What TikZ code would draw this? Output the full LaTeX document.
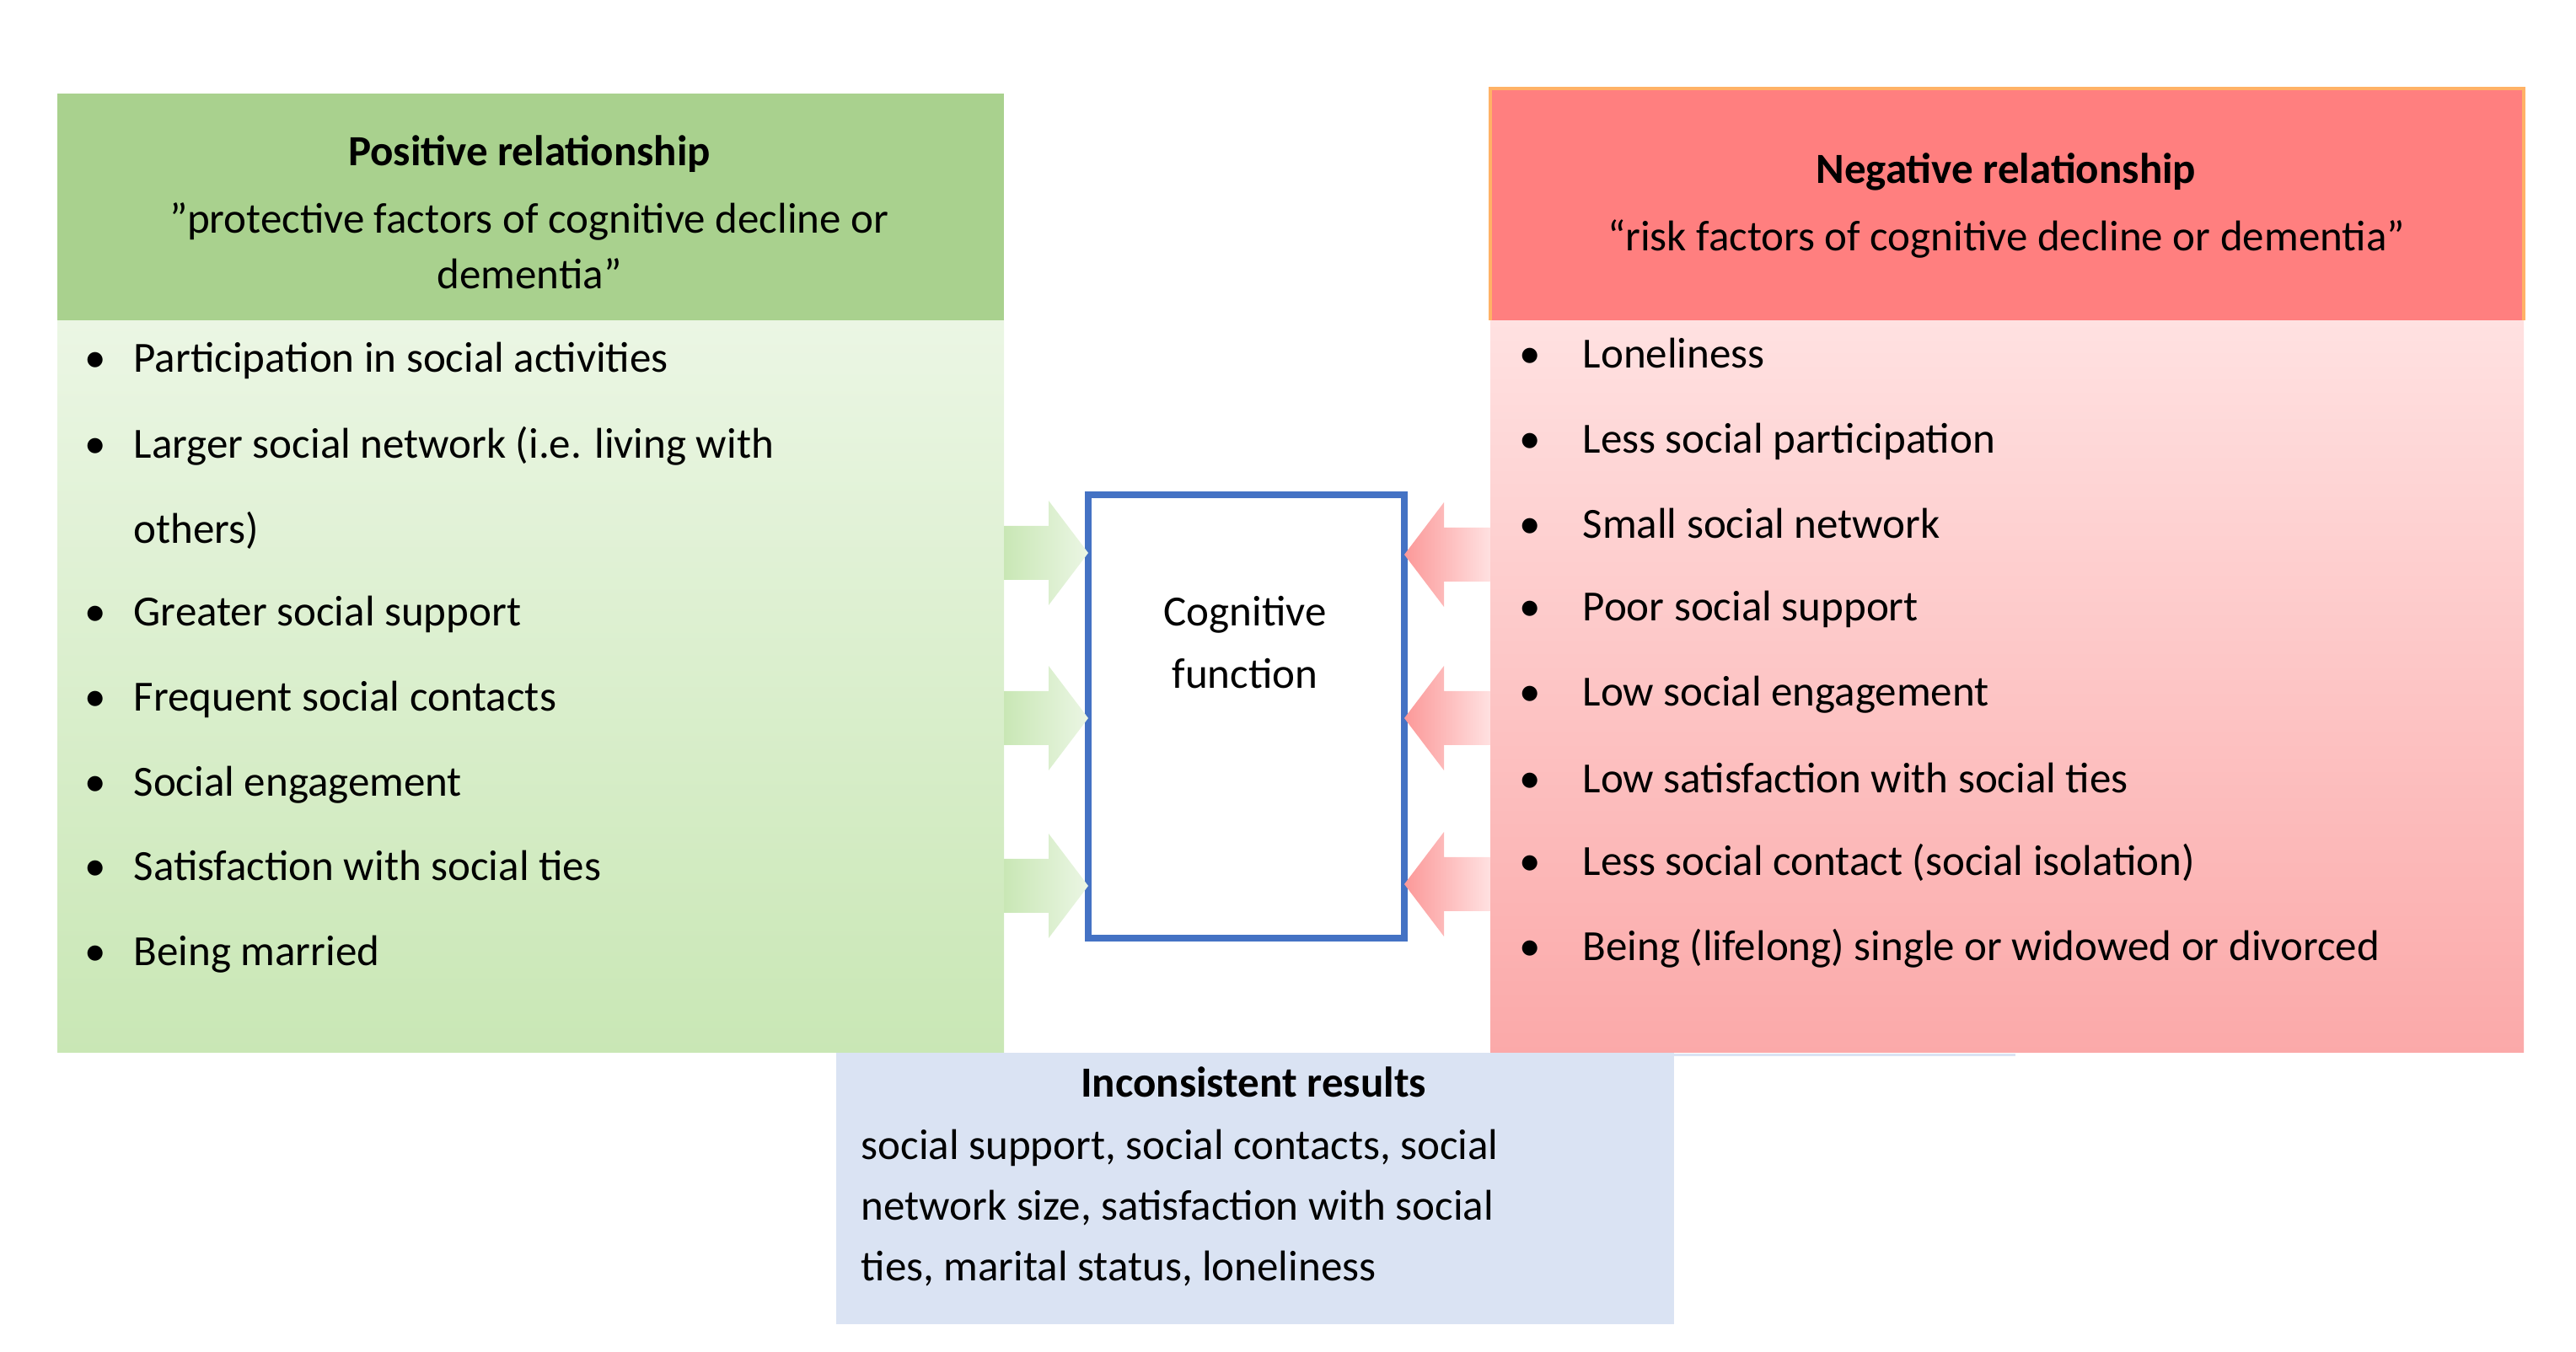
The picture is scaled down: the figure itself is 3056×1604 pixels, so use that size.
\documentclass[tikz,border=0pt]{standalone}
\usepackage{fontspec}
\setmainfont{Carlito}
\begin{document}
\begin{tikzpicture}[x=0.01cm,y=-0.01cm,
  txt/.style={font=\fontsize{14.5pt}{17pt}\selectfont,inner sep=0pt},
  bl/.style={txt,anchor=base west},
  hd/.style={txt,anchor=base,font=\fontsize{14.5pt}{17pt}\selectfont\bfseries}]
\definecolor{ghead}{HTML}{A9D18E}
\definecolor{gtop}{HTML}{EBF6E4}
\definecolor{gbot}{HTML}{C9E7B5}
\definecolor{rhead}{HTML}{FF7F7F}
\definecolor{rtop}{HTML}{FFE1E1}
\definecolor{rbot}{HTML}{FBA9A9}
\definecolor{bbox}{HTML}{DAE3F3}
\definecolor{cblue}{HTML}{4472C4}
\useasboundingbox (0,0) rectangle (3056,1604);
% green panel
\shade[top color=gtop,bottom color=gbot] (68,380) rectangle (1191,1249);
\fill[ghead] (68,111) rectangle (1191,380);
% red panel
\shade[top color=rtop,bottom color=rbot] (1768,380) rectangle (2994,1249);
\fill[rhead] (1768,105) rectangle (2994,380);
\draw[orange!60,line width=1pt] (1768,380) -- (1768,105) -- (2994,105) -- (2994,380);
% bottom
\node[fill=bbox,minimum width=994\pgflinewidth,inner sep=0pt,anchor=north west] (inc) at (992,1249) {};
\fill[bbox] (992,1249) rectangle (1986,1571);
% center
\node[draw=cblue,line width=2.2pt,fill=white,minimum width=375*0.01cm,minimum height=526*0.01cm,inner sep=0pt] (cog) at (1478.5,850) {};
\node[txt,anchor=base] at (1477,743) {Cognitive};
\node[txt,anchor=base] at (1477,817) {function};
% arrows
\foreach \yy in {656,852,1051}{
  \shade[left color=gbot,right color=gtop]
   (1191,\yy-32) -- (1244,\yy-32) -- (1244,\yy-62) -- (1291,\yy) -- (1244,\yy+62) -- (1244,\yy+32) -- (1191,\yy+32) -- cycle;
}
\foreach \yy in {658,852,1049}{
  \shade[left color=rbot!90!red,right color=rtop]
   (1768,\yy-32) -- (1713,\yy-32) -- (1713,\yy-62) -- (1666,\yy) -- (1713,\yy+62) -- (1713,\yy+32) -- (1768,\yy+32) -- cycle;
}
% green texts
\node[hd] (gh) at (628,197) {Positive relationship};
\node[txt,anchor=base] at (628,277) {”protective factors of cognitive decline or};
\node[txt,anchor=base] at (628,343) {dementia”};
\foreach \yy/\t in {442/Participation in social activities,544/Larger social network (i.e. living with,743/Greater social support,844/Frequent social contacts,945/Social engagement,1045/Satisfaction with social ties,1146/Being married}{
  \node[bl] at (100,\yy) {•};
  \node[bl] at (158,\yy) {\t};
}
\node[bl] at (158,645) {others)};
% red texts
\node[hd] (rh) at (2380,218) {Negative relationship};
\node[txt,anchor=base] at (2380,298) {“risk factors of cognitive decline or dementia”};
\foreach \yy/\t in {437/Loneliness,538/Less social participation,639/Small social network,737/Poor social support,838/Low social engagement,941/Low satisfaction with social ties,1039/Less social contact (social isolation),1140/Being (lifelong) single or widowed or divorced}{
  \node[bl] at (1802,\yy) {•};
  \node[bl] at (1877,\yy) {\t};
}
% bottom texts
\node[hd] at (1487,1302) {Inconsistent results};
\node[bl] at (1021,1376) {social support, social contacts, social};
\node[bl] at (1021,1448) {network size, satisfaction with social};
\node[bl] at (1021,1520) {ties, marital status, loneliness};
\end{tikzpicture}
\end{document}
